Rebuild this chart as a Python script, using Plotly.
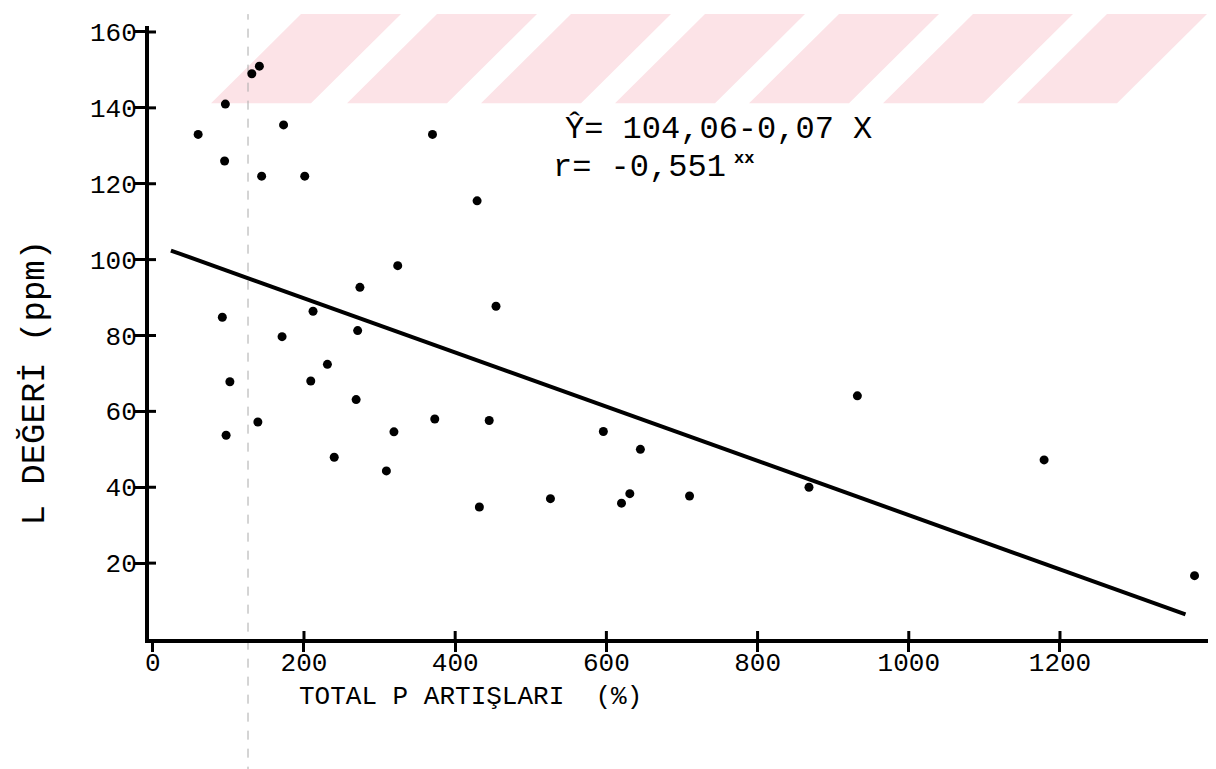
import plotly.graph_objects as go

# Data (TOTAL P ARTIŞLARI %, L DEĞERİ ppm)
x_vals = [60, 96, 95, 131, 141, 173, 144, 201, 370, 429,
          324, 274, 454, 92, 212, 271, 171, 231, 102, 209,
          269, 373, 445, 139, 97, 319, 240, 309, 432, 526,
          596, 645, 631, 620, 710, 932, 868, 1179, 1378]
y_vals = [133, 141, 126, 149, 151, 135.5, 122, 122, 133, 115.5,
          98.4, 92.7, 87.7, 84.8, 86.4, 81.3, 79.7, 72.4, 67.8, 68,
          63.1, 58, 57.6, 57.2, 53.7, 54.6, 47.9, 44.3, 34.8, 37,
          54.7, 50, 38.3, 35.8, 37.7, 64.1, 40, 47.2, 16.7]

# regression line as drawn in the reference (end points)
line_x = [24, 1366]
line_y = [102.4, 6.5]

x_ticks = [0, 200, 400, 600, 800, 1000, 1200]
y_ticks = [20, 40, 60, 80, 100, 120, 140, 160]

W, H = 1216, 769
ML, MR, MT, MB = 141, 11, 12, 138
PW, PH = W - ML - MR, H - MT - MB
PX_PER_Y = 3.831
x_range = [-5, -5 + PW / 0.756]
y_range = [0, PH / PX_PER_Y]

FONT = "Liberation Mono, Courier New, monospace"

def px_to_paper(px, py):
    return ((px - ML) / PW, (H - MB - py) / PH)

fig = go.Figure()
fig.add_trace(go.Scatter(x=line_x, y=line_y, mode="lines",
                         line=dict(color="black", width=4), showlegend=False))
fig.add_trace(go.Scatter(x=x_vals, y=y_vals, mode="markers",
                         marker=dict(color="black", size=9), showlegend=False))

shapes = []
# watermark stripes (light pink) at the top of the scanned page
starts = [203, 339, 473, 607, 741, 875, 1009]
for s in starts:
    pts = [(s, 90), (s + 100, 90), (s + 190, 0), (s + 90, 0)]
    path = "M " + " L ".join(f"{px_to_paper(a,b)[0]},{px_to_paper(a,b)[1]}" for a, b in pts) + " Z"
    shapes.append(dict(type="path", xref="paper", yref="paper", path=path,
                       fillcolor="#fce3e7", line=dict(width=0), layer="below"))
# faint scanner line
xp = px_to_paper(240, 0)[0]
shapes.append(dict(type="line", xref="paper", yref="paper", x0=xp, x1=xp,
                   y0=px_to_paper(0, H)[1], y1=px_to_paper(0, 0)[1],
                   line=dict(color="#aaaaaa", width=1, dash="dash"), layer="below"))
# inner halves of the crossing tick marks
for tv in x_ticks[1:]:
    shapes.append(dict(type="line", xref="x", yref="y", ysizemode="pixel", yanchor=0,
                       x0=tv, x1=tv, y0=0, y1=8, line=dict(color="black", width=3)))
for tv in y_ticks:
    shapes.append(dict(type="line", xref="x", yref="y", xsizemode="pixel", xanchor=x_range[0],
                       y0=tv, y1=tv, x0=0, x1=7, line=dict(color="black", width=3)))

fig.update_layout(
    width=W, height=H,
    margin=dict(l=ML, r=MR, t=MT, b=MB),
    paper_bgcolor="white", plot_bgcolor="rgba(0,0,0,0)",
    font=dict(family=FONT, color="black", size=26),
    shapes=shapes,
    xaxis=dict(range=x_range, tickvals=x_ticks, ticktext=[str(v) for v in x_ticks],
               showgrid=False, zeroline=False, showline=True, linecolor="black", linewidth=4,
               ticks="outside", ticklen=9, tickwidth=3, tickcolor="black",
               ticklabelstandoff=-12, tickfont=dict(size=26, family=FONT)),
    yaxis=dict(range=y_range, tickvals=y_ticks, ticktext=[str(v) for v in y_ticks],
               showgrid=False, zeroline=False, showline=True, linecolor="black", linewidth=4,
               ticks="outside", ticklen=11, tickwidth=3, tickcolor="black",
               ticklabelstandoff=-8, tickfont=dict(size=26, family=FONT)),
    annotations=[
        dict(x=543, y=134.3, xref="x", yref="y", text="Ŷ= 104,06-0,07 X", showarrow=False,
             xanchor="left", yanchor="middle", font=dict(size=32, family=FONT)),
        dict(x=527, y=124.4, xref="x", yref="y", text="r= -0,551", showarrow=False,
             xanchor="left", yanchor="middle", font=dict(size=32, family=FONT)),
        dict(x=766, y=126.6, xref="x", yref="y", text="<b>xx</b>", showarrow=False,
             xanchor="left", yanchor="middle", font=dict(size=17, family=FONT)),
        dict(x=px_to_paper(27, 0)[0], y=px_to_paper(0, 372)[1], xref="paper", yref="paper",
             text="L DEĞERİ (ppm)", textangle=-90, showarrow=False,
             xanchor="center", yanchor="middle", font=dict(size=34, family=FONT)),
        dict(x=px_to_paper(462, 0)[0], y=px_to_paper(0, 690)[1], xref="paper", yref="paper",
             text="TOTAL P ARTIŞLARI  (%)", showarrow=False,
             xanchor="center", yanchor="middle", font=dict(size=26, family=FONT)),
    ],
)

fig.write_html("out.html")
